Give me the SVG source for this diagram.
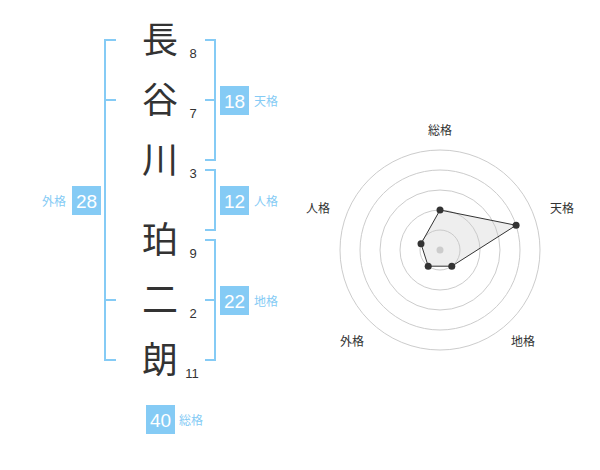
<svg xmlns="http://www.w3.org/2000/svg" width="600" height="470" viewBox="0 0 600 470">
<style>
.kan{font-family:"Noto Sans CJK JP","Liberation Sans",sans-serif;font-size:36px;fill:#333;text-anchor:middle}
.num{font-family:"Liberation Sans",Arial,sans-serif;font-size:13px;fill:#333;text-anchor:middle}
.br{fill:none;stroke:#85cbf5;stroke-width:2}
.box{fill:#85cbf5}
.bt{font-family:"Liberation Sans",Arial,sans-serif;font-size:19px;fill:#fff;text-anchor:middle}
.bl{font-family:"Noto Sans CJK JP",sans-serif;font-size:12px;fill:#85cbf5}
.ring{fill:none;stroke:#ccc;stroke-width:1}
.rl{font-family:"Noto Sans CJK JP",sans-serif;font-size:12px;fill:#333;text-anchor:middle}
.pt{fill:#333}
</style>
<rect width="600" height="470" fill="#fff"/>
<g id="chars">
<text class="kan" x="160" y="53">長</text>
<text class="kan" x="160" y="113">谷</text>
<text class="kan" x="160" y="173">川</text>
<text class="kan" x="160" y="253">珀</text>
<text class="kan" x="160" y="313">二</text>
<text class="kan" x="160" y="373">朗</text>
</g>
<g id="strokes">
<text class="num" x="193" y="58">8</text>
<text class="num" x="193" y="118">7</text>
<text class="num" x="193" y="178">3</text>
<text class="num" x="193" y="258">9</text>
<text class="num" x="193" y="318">2</text>
<text class="num" x="192" y="378">11</text>
</g>
<g id="connectors">
<path class="br" d="M116,40 H105 V360 H116 M105,100 H116 M105,300 H116"/>
<path class="br" d="M205,40 H215 V160 H205 M215,100 H205"/>
<path class="br" d="M205,170 H215 V230 H205"/>
<path class="br" d="M205,240 H215 V360 H205 M215,300 H205"/>
</g>
<g id="tenkaku">
<rect class="box" x="220" y="86" width="29" height="29"/>
<text class="bt" x="234.5" y="107.5">18</text>
<text class="bl" x="254" y="106">天格</text>
</g>
<g id="jinkaku">
<rect class="box" x="220" y="186" width="29" height="29"/>
<text class="bt" x="234.5" y="207.5">12</text>
<text class="bl" x="254" y="206">人格</text>
</g>
<g id="chikaku">
<rect class="box" x="220" y="286" width="29" height="29"/>
<text class="bt" x="234.5" y="307.5">22</text>
<text class="bl" x="254" y="306">地格</text>
</g>
<g id="gaikaku">
<rect class="box" x="72" y="186" width="29" height="29"/>
<text class="bt" x="86.5" y="207.5">28</text>
<text class="bl" x="66" y="206" text-anchor="end">外格</text>
</g>
<g id="soukaku">
<rect class="box" x="146" y="405" width="29" height="29"/>
<text class="bt" x="160.5" y="426.5">40</text>
<text class="bl" x="179" y="425">総格</text>
</g>
<g id="radar">
<circle class="ring" cx="440" cy="250" r="20"/>
<circle class="ring" cx="440" cy="250" r="40"/>
<circle class="ring" cx="440" cy="250" r="60"/>
<circle class="ring" cx="440" cy="250" r="80"/>
<circle class="ring" cx="440" cy="250" r="100"/>
<polygon points="440,210 516.1,225.3 451.8,266.2 428.2,266.2 421,243.8" fill="rgba(200,200,200,0.3)" stroke="#333" stroke-width="1"/>
<circle cx="440" cy="250" r="3.5" fill="#ccc"/>
<circle class="pt" cx="440" cy="210" r="3.5"/>
<circle class="pt" cx="516.1" cy="225.3" r="3.5"/>
<circle class="pt" cx="451.8" cy="266.2" r="3.5"/>
<circle class="pt" cx="428.2" cy="266.2" r="3.5"/>
<circle class="pt" cx="421" cy="243.8" r="3.5"/>
<text class="rl" x="440" y="135">総格</text>
<text class="rl" x="562" y="213">天格</text>
<text class="rl" x="523" y="346">地格</text>
<text class="rl" x="352" y="346">外格</text>
<text class="rl" x="318" y="213">人格</text>
</g>
</svg>
